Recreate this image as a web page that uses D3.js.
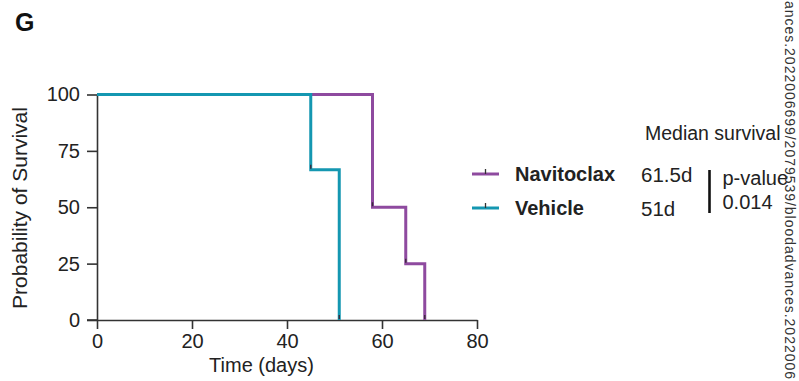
<!DOCTYPE html>
<html>
<head>
<meta charset="utf-8">
<script src="https://cdn.jsdelivr.net/npm/d3@7"></script>
<style>
  html, body { margin: 0; padding: 0; background: #fff; }
  svg { display: block; font-family: "Liberation Sans", Arial, Helvetica, sans-serif; }
</style>
</head>
<body>
<svg id="chart" width="799" height="381"></svg>
<script>
// ---- data ----
const xTicks = [0, 20, 40, 60, 80];
const yTicks = [0, 25, 50, 75, 100];
const seriesNames = ["Navitoclax", "Vehicle"];
const navitoclaxTimes = [0, 58, 65, 69];
const navitoclaxSurvival = [100, 50, 25, 0];
const vehicleTimes = [0, 45, 51];
const vehicleSurvival = [100, 66.67, 0];
const medianLabels = ["61.5d", "51d"];
const pValue = "0.014";

const colors = ["#8e4a9f", "#1497b1"];

const svg = d3.select("#chart");
const x = d3.scaleLinear().domain([0, 80]).range([97, 477]);
const y = d3.scaleLinear().domain([0, 100]).range([320, 94.5]);

// panel letter
svg.append("text").attr("x", 15).attr("y", 31)
  .attr("font-size", 25).attr("font-weight", "bold").attr("fill", "#111").text("G");

// axes
const gx = svg.append("g").attr("transform", "translate(0,320)")
  .call(d3.axisBottom(x).tickValues(xTicks).tickSize(9).tickSizeOuter(0).tickPadding(5));
const gy = svg.append("g").attr("transform", "translate(97,0)")
  .call(d3.axisLeft(y).tickValues(yTicks).tickSize(10).tickSizeOuter(0).tickPadding(7));
[gx, gy].forEach(g => {
  g.selectAll("path, line").attr("stroke", "#333").attr("stroke-width", 1.6);
  g.selectAll("text").attr("font-size", 20).attr("fill", "#222")
    .attr("font-family", "'Liberation Sans', Arial, sans-serif");
});
// extend x axis line to the left so it meets the y tick at 0
svg.append("line").attr("x1", 87).attr("x2", 97).attr("y1", 320).attr("y2", 320)
  .attr("stroke", "#333").attr("stroke-width", 1.6);

// axis labels
svg.append("text").attr("x", 261.5).attr("y", 371.5).attr("text-anchor", "middle")
  .attr("font-size", 20).attr("fill", "#222").text("Time (days)");
svg.append("text").attr("transform", "translate(27,208) rotate(-90)")
  .attr("text-anchor", "middle").attr("font-size", 21).attr("fill", "#222")
  .text("Probability of Survival");

// curves
const series = [
  { t: navitoclaxTimes, s: navitoclaxSurvival },
  { t: vehicleTimes, s: vehicleSurvival }
];
const line = d3.line().x(d => x(d[0])).y(d => y(d[1])).curve(d3.curveStepAfter);
series.forEach((ser, i) => {
  const pts = ser.t.map((t, j) => [t, ser.s[j]]);
  svg.append("path").attr("d", line(pts)).attr("fill", "none")
    .attr("stroke", colors[i]).attr("stroke-width", 3).attr("stroke-linejoin", "miter");
  // event ticks at the bottom of each drop
  pts.slice(1).forEach(p => {
    svg.append("line").attr("x1", x(p[0])).attr("x2", x(p[0]))
      .attr("y1", y(p[1]) - 1).attr("y2", y(p[1]) - 5)
      .attr("stroke", "#3a2a3a").attr("stroke-width", 1.4);
  });
});

// legend
const legY = [174, 208];
seriesNames.forEach((name, i) => {
  svg.append("line").attr("x1", 472).attr("x2", 499).attr("y1", legY[i]).attr("y2", legY[i])
    .attr("stroke", colors[i]).attr("stroke-width", 3);
  svg.append("line").attr("x1", 485.5).attr("x2", 485.5).attr("y1", legY[i]).attr("y2", legY[i] - 5)
    .attr("stroke", "#333").attr("stroke-width", 1.3);
  svg.append("text").attr("x", 515).attr("y", legY[i] + 7)
    .attr("font-size", 20).attr("font-weight", "bold").attr("fill", "#222").text(name);
  svg.append("text").attr("x", 641).attr("y", legY[i] + 7.5)
    .attr("font-size", 20.5).attr("fill", "#222").text(medianLabels[i]);
});
svg.append("text").attr("x", 645).attr("y", 140)
  .attr("font-size", 19.5).attr("fill", "#222").text("Median survival");
svg.append("line").attr("x1", 709.5).attr("x2", 709.5).attr("y1", 170).attr("y2", 213)
  .attr("stroke", "#111").attr("stroke-width", 2.6);
svg.append("text").attr("x", 722.5).attr("y", 185)
  .attr("font-size", 20).attr("fill", "#222").text("p-value");
svg.append("text").attr("x", 722.5).attr("y", 209)
  .attr("font-size", 20).attr("fill", "#222").text(pValue);

// vertical watermark at right edge (the visible part of the page's download note)
svg.append("text").attr("transform", "translate(785,1) rotate(90)")
  .attr("font-size", 14).attr("fill", "#333")
  .attr("textLength", 378).attr("lengthAdjust", "spacing")
  .text("ances.2022006699/2079539/bloodadvances.2022006");
</script>
</body>
</html>
